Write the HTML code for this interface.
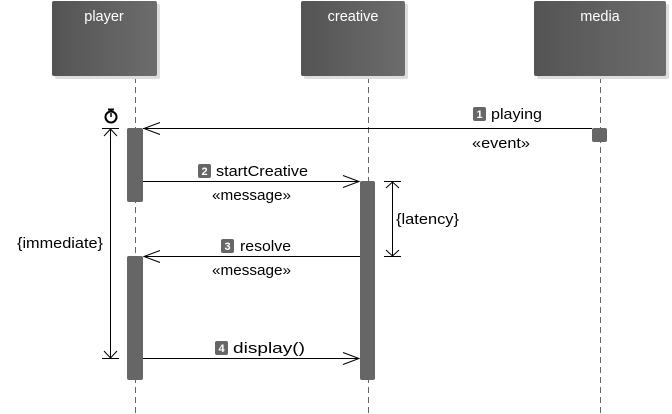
<!DOCTYPE html>
<html><head><style>
body{margin:0;background:#fff;}
svg{display:block;font-family:"Liberation Sans",sans-serif;}
</style></head><body>
<svg width="672" height="414" viewBox="0 0 672 414" xmlns="http://www.w3.org/2000/svg">
<defs>
<linearGradient id="g" x1="0" x2="1" y1="0" y2="0"><stop offset="0" stop-color="#545454"/><stop offset="1" stop-color="#6c6c6c"/></linearGradient>
</defs>
<g stroke="#666" stroke-dasharray="6,4" stroke-width="1">
<line x1="135.5" y1="77" x2="135.5" y2="414"/>
<line x1="368.5" y1="77" x2="368.5" y2="414"/>
<line x1="600.5" y1="77" x2="600.5" y2="414"/>
</g>
<rect x="55" y="4" width="105" height="75" fill="#ddd" rx="2"/>
<rect x="52" y="1" width="105" height="75" fill="url(#g)" rx="2"/>
<rect x="304" y="4" width="104" height="75" fill="#ddd" rx="2"/>
<rect x="301" y="1" width="104" height="75" fill="url(#g)" rx="2"/>
<rect x="537" y="4" width="132" height="75" fill="#ddd" rx="2"/>
<rect x="534" y="1" width="132" height="75" fill="url(#g)" rx="2"/>
<g fill="#fff" font-size="14.5" text-anchor="middle">
<text x="104" y="21">player</text>
<text x="353" y="21">creative</text>
<text x="600" y="21">media</text>
</g>
<g fill="#666">
<rect x="127" y="128" width="16" height="74" rx="2"/>
<rect x="127" y="256" width="16" height="124" rx="2"/>
<rect x="360" y="181" width="15" height="199" rx="2"/>
<rect x="592" y="128" width="15" height="14" rx="2"/>
</g>
<g stroke="#000" stroke-width="1" fill="none">
<line x1="143" y1="128.5" x2="592" y2="128.5"/>
<polyline points="160,122.5 144,128.5 160,134.5"/>
<line x1="143" y1="181.5" x2="359" y2="181.5"/>
<polyline points="343,175.5 359,181.5 343,187.5"/>
<line x1="144" y1="256.5" x2="360" y2="256.5"/>
<polyline points="160,250.5 144,256.5 160,262.5"/>
<line x1="143" y1="358.5" x2="359" y2="358.5"/>
<polyline points="343,352.5 359,358.5 343,364.5"/>
<line x1="110.5" y1="129" x2="110.5" y2="358"/>
<line x1="102" y1="128.5" x2="119" y2="128.5"/>
<line x1="102" y1="358.5" x2="119" y2="358.5"/>
<polyline points="104,136 110.5,129 117,136"/>
<polyline points="104,351 110.5,358 117,351"/>
<line x1="392.5" y1="182" x2="392.5" y2="256"/>
<line x1="384" y1="181.5" x2="401" y2="181.5"/>
<line x1="384" y1="256.5" x2="401" y2="256.5"/>
<polyline points="386,188 392.5,182 399,188"/>
<polyline points="386,250 392.5,256 399,250"/>
<circle cx="111" cy="117" r="5.5" stroke-width="2"/>
<line x1="111" y1="117" x2="111" y2="113" stroke-width="1.5"/>
<line x1="108" y1="109.5" x2="114" y2="109.5" stroke-width="2"/>
</g>
<g fill="#666">
<rect x="473" y="107" width="13" height="14" rx="2"/>
<rect x="198" y="164" width="13" height="14" rx="2"/>
<rect x="221" y="239" width="13" height="14" rx="2"/>
<rect x="215" y="341" width="13" height="14" rx="2"/>
</g>
<g fill="#fff" font-size="11" text-anchor="middle" font-weight="bold">
<text x="479.5" y="118">1</text>
<text x="204.5" y="175">2</text>
<text x="227.5" y="250">3</text>
<text x="221.5" y="352">4</text>
</g>
<g fill="#000" font-size="15">
<text x="491" y="119" textLength="51" lengthAdjust="spacingAndGlyphs">playing</text>
<text x="472" y="148" textLength="58" lengthAdjust="spacingAndGlyphs">«event»</text>
<text x="216" y="176" textLength="92" lengthAdjust="spacingAndGlyphs">startCreative</text>
<text x="212" y="200" textLength="79" lengthAdjust="spacingAndGlyphs">«message»</text>
<text x="240" y="251" textLength="51" lengthAdjust="spacingAndGlyphs">resolve</text>
<text x="212" y="275" textLength="79" lengthAdjust="spacingAndGlyphs">«message»</text>
<text x="233" y="353" textLength="72" lengthAdjust="spacingAndGlyphs">display()</text>
<text x="396" y="224" textLength="63" lengthAdjust="spacingAndGlyphs">{latency}</text>
<text x="17" y="248" textLength="86" lengthAdjust="spacingAndGlyphs">{immediate}</text>
</g>
</svg>
</body></html>
